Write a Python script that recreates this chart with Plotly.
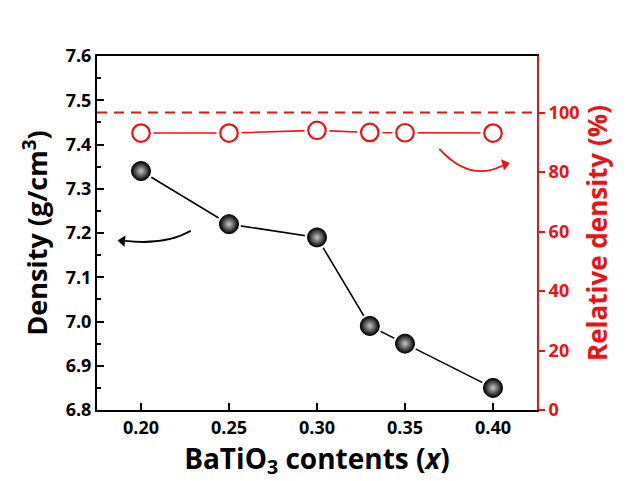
import plotly.graph_objects as go

x_vals = [0.20, 0.25, 0.30, 0.33, 0.35, 0.40]
density = [7.34, 7.22, 7.19, 6.99, 6.95, 6.85]
rel_density = [93.1, 93.1, 94.0, 93.3, 93.2, 93.1]
theoretical_line = 100

RED = "#ee1111"
FONT = "Open Sans"

fig = go.Figure()

# density series
fig.add_trace(go.Scatter(x=x_vals, y=density, mode="lines",
                         line=dict(color="black", width=1.6), showlegend=False, hoverinfo="skip"))
fig.add_trace(go.Scatter(x=x_vals, y=density, mode="markers",
                         marker=dict(size=24, color="white", line=dict(width=0)), showlegend=False, hoverinfo="skip"))
fig.add_trace(go.Scatter(x=x_vals, y=density, mode="markers",
                         marker=dict(size=19, color="black",
                                     gradient=dict(type="radial", color="#c8c8c8"),
                                     line=dict(color="black", width=1)),
                         showlegend=False))

# relative density series
fig.add_trace(go.Scatter(x=x_vals, y=rel_density, mode="lines", yaxis="y2",
                         line=dict(color=RED, width=1.6), showlegend=False, hoverinfo="skip"))
fig.add_trace(go.Scatter(x=x_vals, y=rel_density, mode="markers", yaxis="y2",
                         marker=dict(size=25, color="white", line=dict(width=0)), showlegend=False, hoverinfo="skip"))
fig.add_trace(go.Scatter(x=x_vals, y=rel_density, mode="markers", yaxis="y2",
                         marker=dict(size=17.5, color="white", line=dict(color=RED, width=2.2)),
                         showlegend=False))

# dashed 100% line
fig.add_shape(type="line", xref="paper", x0=0, x1=1, yref="y2",
              y0=theoretical_line, y1=theoretical_line,
              line=dict(color=RED, width=2, dash="10px,7px"))

# curved arrows
fig.add_shape(type="path", xref="x", yref="y",
              path="M 0.2283,7.205 Q 0.214,7.172 0.191,7.182",
              line=dict(color="black", width=1.8))
fig.add_trace(go.Scatter(x=[0.1895], y=[7.182], mode="markers", hoverinfo="skip", showlegend=False,
                         marker=dict(symbol="triangle-left", size=10, color="black", angle=5)))
fig.add_shape(type="path", xref="x", yref="y2",
              path="M 0.3695,87.8 Q 0.387,76.5 0.4055,82.2",
              line=dict(color=RED, width=1.8))
fig.add_trace(go.Scatter(x=[0.4068], y=[82.6], mode="markers", yaxis="y2", hoverinfo="skip", showlegend=False,
                         marker=dict(symbol="triangle-right", size=10, color=RED, angle=-15)))

fig.update_layout(
    width=641, height=481,
    margin=dict(l=97, r=104, t=56, b=71),
    paper_bgcolor="white", plot_bgcolor="white",
    font=dict(family=FONT, color="black"),
    xaxis=dict(range=[0.175, 0.425], tickvals=[0.20, 0.25, 0.30, 0.35, 0.40],
               ticktext=["0.20", "0.25", "0.30", "0.35", "0.40"],
               ticks="inside", ticklen=7, tickwidth=1.5, tickcolor="black",
               showline=True, linecolor="black", linewidth=2, mirror=True,
               showgrid=False, zeroline=False,
               tickfont=dict(size=18, weight="bold", family=FONT),
               title=dict(text="BaTiO<sub>3</sub> contents (<i>x</i>)",
                          font=dict(size=28, weight="bold", family=FONT), standoff=2)),
    yaxis=dict(range=[6.8, 7.6], dtick=0.1, tickformat=".1f",
               ticks="inside", ticklen=7, tickwidth=1.5, tickcolor="black",
               minor=dict(ticks="inside", ticklen=4, dtick=0.05, tickcolor="black", showgrid=False),
               showline=True, linecolor="black", linewidth=2, mirror=False,
               showgrid=False, zeroline=False,
               tickfont=dict(size=18, weight="bold", family=FONT),
               title=dict(text="Density (g/cm<sup>3</sup>)",
                          font=dict(size=27, weight="bold", family=FONT), standoff=10)),
    yaxis2=dict(overlaying="y", side="right", range=[0, 119],
                tickvals=[0, 20, 40, 60, 80, 100],
                ticks="outside", ticklen=6, tickwidth=1.5, tickcolor=RED,
                showline=True, linecolor=RED, linewidth=2,
                showgrid=False, zeroline=False,
                tickfont=dict(size=18, weight="bold", family=FONT, color=RED),
                title=dict(text="Relative density (%)",
                           font=dict(size=26, weight="bold", family=FONT, color=RED), standoff=10)),
)

fig.write_html("out.html")
